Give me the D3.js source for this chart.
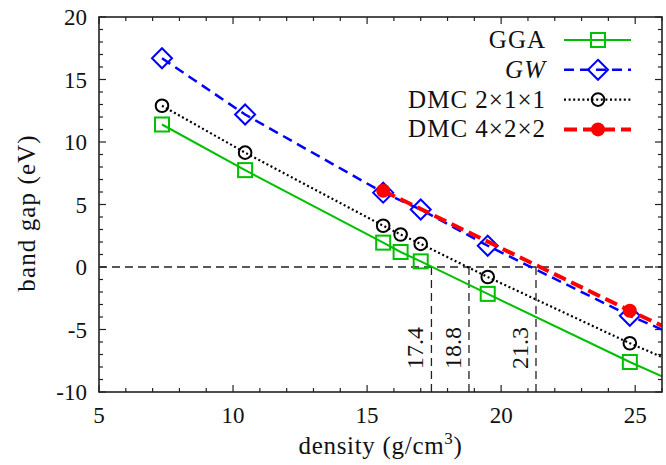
<!DOCTYPE html>
<html>
<head>
<meta charset="utf-8">
<script src="https://cdn.jsdelivr.net/npm/d3@7"></script>
<style>
  body { margin: 0; background: #fff; }
  svg { display: block; }
</style>
</head>
<body>
<div id="chart"></div>
<script>
// values
var ggaX   = [7.35, 10.45, 15.6, 16.25, 17.0, 19.5, 24.8];
var ggaGap = [11.4, 7.75, 1.95, 1.2, 0.45, -2.15, -7.6];
var gwX    = [7.35, 10.45, 15.6, 17.0, 19.5, 24.8];
var gwGap  = [16.7, 12.2, 5.95, 4.6, 1.7, -3.9];
var dmcX   = [7.35, 10.45, 15.6, 16.25, 17.0, 19.5, 24.8];
var dmcGap = [12.9, 9.15, 3.3, 2.6, 1.85, -0.8, -6.1];
var dmc4X   = [15.6, 24.8];
var dmc4Gap = [6.1, -3.5];
// where each fitted line leaves the frame at density 26
var lineEndX   = 26;
var lineEndGap = { gga: -8.75, gw: -5.0, dmc: -7.2, dmc4: -4.7 };
// metallisation densities
var crossX = [17.4, 18.8, 21.3];
var crossLabels = ["17.4", "18.8", "21.3"];

var xTicks = [5, 10, 15, 20, 25];
var yTicks = [-10, -5, 0, 5, 10, 15, 20];
var yTickLabels = ["-10", "-5", "0", "5", "10", "15", "20"];

var FONT = "'Liberation Serif', 'DejaVu Serif', 'Times New Roman', serif";

var W = 666, H = 465;
var margin = {top: 17, right: 4, bottom: 73, left: 99},
    width = W - margin.left - margin.right,
    height = H - margin.top - margin.bottom;

var x = d3.scaleLinear().domain([5, 26]).range([0, width]);
var y = d3.scaleLinear().domain([-10, 20]).range([height, 0]);

var root = d3.select("#chart").append("svg")
    .attr("width", W)
    .attr("height", H)
    .style("font-family", FONT);

var svg = root.append("g")
    .attr("transform", "translate(" + margin.left + "," + margin.top + ")");

root.append("defs").append("clipPath").attr("id", "plotclip")
  .append("rect").attr("width", width).attr("height", height);

// ticks (inward, on all four sides)
var minorX = d3.range(5, 27, 1), minorY = d3.range(-10, 21, 1);
var tg = svg.append("g").attr("stroke", "#222").attr("stroke-width", 1.2);
minorX.forEach(function(v) {
  var len = xTicks.indexOf(v) >= 0 ? 7 : 4;
  tg.append("line").attr("x1", x(v)).attr("x2", x(v)).attr("y1", height).attr("y2", height - len);
  tg.append("line").attr("x1", x(v)).attr("x2", x(v)).attr("y1", 0).attr("y2", len);
});
minorY.forEach(function(v) {
  var len = yTicks.indexOf(v) >= 0 ? 7 : 4;
  tg.append("line").attr("y1", y(v)).attr("y2", y(v)).attr("x1", 0).attr("x2", len);
  tg.append("line").attr("y1", y(v)).attr("y2", y(v)).attr("x1", width).attr("x2", width - len);
});

function txt(sel) {
  return sel.style("font-family", FONT).attr("fill", "#111");
}

// tick labels
txt(svg.selectAll(".xlab").data(xTicks).enter().append("text"))
    .attr("class", "xlab")
    .attr("x", function(d) { return x(d); })
    .attr("y", height + 31)
    .attr("text-anchor", "middle")
    .style("font-size", "23px")
    .text(function(d) { return d; });
txt(svg.selectAll(".ylab").data(yTicks).enter().append("text"))
    .attr("class", "ylab")
    .attr("x", -12)
    .attr("y", function(d) { return y(d) + 8; })
    .attr("text-anchor", "end")
    .style("font-size", "23px")
    .text(function(d, i) { return yTickLabels[i]; });

// axis titles
var xt = txt(svg.append("text"))
    .attr("x", width / 2)
    .attr("y", height + 62)
    .attr("text-anchor", "middle")
    .style("font-size", "25px")
    .style("letter-spacing", "0.7px");
xt.append("tspan").text("density (g/cm");
xt.append("tspan").attr("dy", -10).style("font-size", "17px").text("3");
xt.append("tspan").attr("dy", 10).text(")");

txt(svg.append("text"))
    .attr("transform", "translate(" + (-64) + "," + 196 + ") rotate(-90)")
    .attr("text-anchor", "middle")
    .style("font-size", "25px")
    .style("letter-spacing", "1.1px")
    .text("band gap (eV)");

// zero line and crossing markers
var ref = svg.append("g").attr("stroke", "#222").attr("stroke-width", 1.3)
    .attr("stroke-dasharray", "8,5").attr("fill", "none");
ref.append("line").attr("x1", 0).attr("x2", width).attr("y1", y(0)).attr("y2", y(0));
crossX.forEach(function(v) {
  ref.append("line").attr("x1", x(v)).attr("x2", x(v)).attr("y1", y(0)).attr("y2", height);
});
txt(svg.selectAll(".cross").data(crossX).enter().append("text"))
    .attr("class", "cross")
    .attr("transform", function(d) { return "translate(" + (x(d) - 8) + "," + (height - 23) + ") rotate(-90)"; })
    .style("font-size", "24px")
    .text(function(d, i) { return crossLabels[i]; });

// series
var series = [
  {key: "gga", xs: ggaX, ys: ggaGap, color: "#00c000", width: 2, dash: null, marker: "square"},
  {key: "gw", xs: gwX, ys: gwGap, color: "#0000ff", width: 2.5, dash: "10,6", marker: "diamond"},
  {key: "dmc", xs: dmcX, ys: dmcGap, color: "#000", width: 2.2, dash: "2,2.6", marker: "circle"},
  {key: "dmc4", xs: dmc4X, ys: dmc4Gap, color: "#ff0000", width: 4, dash: "13,6", marker: "disc"}
];

var line = d3.line().x(function(d) { return x(d[0]); }).y(function(d) { return y(d[1]); });

function drawMarker(g, kind, cx, cy, color) {
  if (kind === "square") {
    g.append("rect").attr("x", cx - 7).attr("y", cy - 7).attr("width", 14).attr("height", 14)
      .attr("fill", "none").attr("stroke", color).attr("stroke-width", 2);
  } else if (kind === "diamond") {
    g.append("path").attr("d", "M" + cx + "," + (cy - 10) + "L" + (cx + 10) + "," + cy + "L" + cx + "," + (cy + 10) + "L" + (cx - 10) + "," + cy + "Z")
      .attr("fill", "none").attr("stroke", color).attr("stroke-width", 2);
  } else if (kind === "circle") {
    g.append("circle").attr("cx", cx).attr("cy", cy).attr("r", 6.3)
      .attr("fill", "none").attr("stroke", color).attr("stroke-width", 2);
  } else {
    g.append("circle").attr("cx", cx).attr("cy", cy).attr("r", 7)
      .attr("fill", color).attr("stroke", "none");
  }
}

var plot = svg.append("g").attr("clip-path", "url(#plotclip)");
series.forEach(function(s) {
  var pts = s.xs.map(function(v, i) { return [v, s.ys[i]]; });
  pts.push([lineEndX, lineEndGap[s.key]]);
  plot.append("path").datum(pts)
    .attr("d", line)
    .attr("fill", "none")
    .attr("stroke", s.color)
    .attr("stroke-width", s.width)
    .attr("stroke-dasharray", s.dash);
  s.xs.forEach(function(v, i) { drawMarker(plot, s.marker, x(v), y(s.ys[i]), s.color); });
});

// legend
var legendNames = ["GGA", "GW", "DMC 2×1×1", "DMC 4×2×2"];
var lg = root.append("g");
series.forEach(function(s, i) {
  var cy = 40 + i * 29.8;
  txt(lg.append("text"))
    .attr("x", 546).attr("y", cy + 8)
    .attr("text-anchor", "end")
    .style("font-size", "25px")
    .style("letter-spacing", "1px")
    .style("font-style", i === 1 ? "italic" : "normal")
    .text(legendNames[i]);
  lg.append("line")
    .attr("x1", 564).attr("x2", 631).attr("y1", cy).attr("y2", cy)
    .attr("stroke", s.color).attr("stroke-width", s.width)
    .attr("stroke-dasharray", s.dash);
  drawMarker(lg, s.marker, 598, cy, s.color);
});

// frame
svg.append("rect").attr("width", width).attr("height", height)
  .attr("fill", "none").attr("stroke", "#222").attr("stroke-width", 1.6);
</script>
</body>
</html>
